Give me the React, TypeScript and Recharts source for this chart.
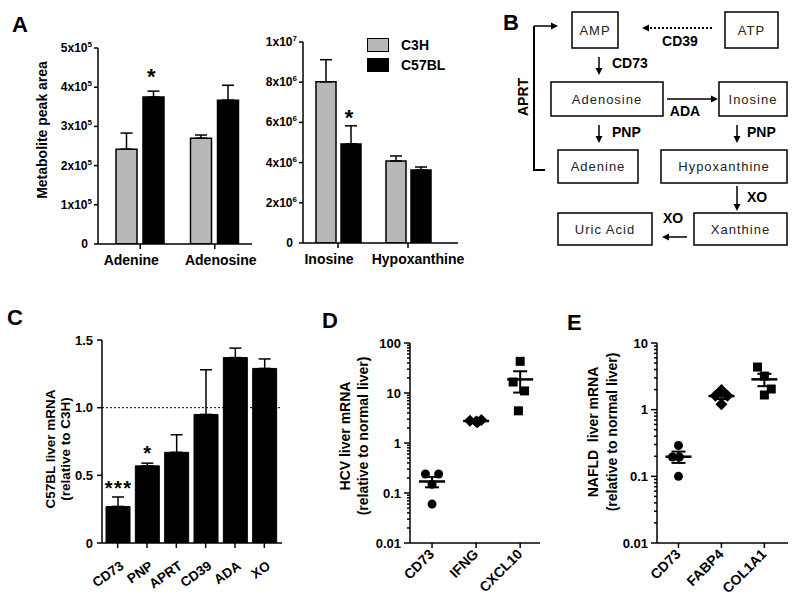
import React from 'react';
import {
  ComposedChart,
  ScatterChart,
  Bar,
  Scatter,
  XAxis,
  YAxis,
  ErrorBar,
  ReferenceLine,
  Legend,
} from 'recharts';

const FONT = '"Liberation Sans", Arial, Helvetica, sans-serif';
const GREY = '#b8b8b8';

// ---- Panel A: metabolite peak areas (C3H vs C57BL) ----
const metabolitesLeft = ['Adenine', 'Adenosine'];
const c3hLeft = [2.42e5, 2.7e5];
const c3hLeftErr = [0.41e5, 0.08e5];
const c57Left = [3.75e5, 3.67e5];
const c57LeftErr = [0.15e5, 0.38e5];
const sigLeft = ['*', ''];
const sigLeftY = [4.4e5, 0];
const ticksLeft = [0, 1e5, 2e5, 3e5, 4e5, 5e5];
const labelShiftLeft = [-9, 6];

const metabolitesRight = ['Inosine', 'Hypoxanthine'];
const c3hRight = [8.02e6, 4.08e6];
const c3hRightErr = [1.1e6, 0.25e6];
const c57Right = [4.93e6, 3.63e6];
const c57RightErr = [0.9e6, 0.15e6];
const sigRight = ['*', ''];
const sigRightY = [6.5e6, 0];
const ticksRight = [0, 2e6, 4e6, 6e6, 8e6, 1e7];
const labelShiftRight = [-9, 10];

// ---- Panel C: C57BL liver mRNA relative to C3H ----
const genesC = ['CD73', 'PNP', 'APRT', 'CD39', 'ADA', 'XO'];
const ratioC = [0.27, 0.57, 0.67, 0.95, 1.37, 1.29];
const ratioCErr = [0.07, 0.02, 0.13, 0.33, 0.07, 0.07];
const sigC = ['***', '*', '', '', '', ''];
const sigCY = [0.44, 0.7, 0, 0, 0, 0];
const ticksC = [0, 0.5, 1.0, 1.5];

// ---- Panel D: HCV liver mRNA ----
const genesD = ['CD73', 'IFNG', 'CXCL10'];
const hcvCD73 = [0.24, 0.24, 0.15, 0.06];
const hcvIFNG = [2.8, 2.7, 2.9, 2.6];
const hcvCXCL10 = [43, 16.6, 11, 4.4];
const hcvMean = [0.17, 2.75, 18.7];
const hcvSem = [0.04, 0.06, 8.5];
// sideways dodge of overlapping symbols, in category units
const hcvCD73Dodge = [-0.15, 0.15, 0, 0];
const hcvIFNGDodge = [-0.14, 0, 0.12, 0.03];
const hcvCXCL10Dodge = [0, -0.16, 0.1, -0.04];

// ---- Panel E: NAFLD liver mRNA ----
const genesE = ['CD73', 'FABP4', 'COL1A1'];
const nafldCD73 = [0.29, 0.195, 0.195, 0.1];
const nafldFABP4 = [1.97, 1.62, 1.62, 1.21];
const nafldCOL1A1 = [4.36, 3.19, 2.04, 1.66];
const nafldMean = [0.197, 1.6, 2.85];
const nafldSem = [0.038, 0.16, 0.6];
const nafldCD73Dodge = [0, -0.14, 0.02, 0];
const nafldFABP4Dodge = [0, -0.14, 0.14, 0];
const nafldCOL1A1Dodge = [-0.16, 0, 0.16, 0];

// ---- Panel B: pathway diagram ----
const pathwayBoxes = [
  { label: 'AMP', x: 82, y: 12, w: 46, h: 36 },
  { label: 'ATP', x: 235, y: 12, w: 53, h: 36 },
  { label: 'Adenosine', x: 61, y: 82, w: 112, h: 34 },
  { label: 'Inosine', x: 229, y: 82, w: 68, h: 34 },
  { label: 'Adenine', x: 68, y: 150, w: 80, h: 33 },
  { label: 'Hypoxanthine', x: 171, y: 150, w: 126, h: 33 },
  { label: 'Uric Acid', x: 68, y: 213, w: 94, h: 32 },
  { label: 'Xanthine', x: 204, y: 213, w: 93, h: 32 },
];
const pathwayArrows = [
  { x1: 222, y1: 28, x2: 152, y2: 28, dashed: true },
  { x1: 109, y1: 57, x2: 109, y2: 75 },
  { x1: 177, y1: 99, x2: 228, y2: 99 },
  { x1: 109, y1: 125, x2: 109, y2: 143 },
  { x1: 247, y1: 125, x2: 247, y2: 143 },
  { x1: 247, y1: 186, x2: 247, y2: 211 },
  { x1: 197, y1: 237, x2: 172, y2: 237 },
  { x1: 44, y1: 26, x2: 68, y2: 26 },
];
const enzymeLabels = [
  { label: 'CD39', x: 190, y: 41, anchor: 'middle' },
  { label: 'CD73', x: 122, y: 63, anchor: 'start' },
  { label: 'ADA', x: 195, y: 111, anchor: 'middle' },
  { label: 'PNP', x: 122, y: 132, anchor: 'start' },
  { label: 'PNP', x: 257, y: 132, anchor: 'start' },
  { label: 'XO', x: 257, y: 197, anchor: 'start' },
  { label: 'XO', x: 173, y: 218, anchor: 'start' },
];

const panelLetters = [
  { label: 'A', x: 12, y: 32 },
  { label: 'B', x: 503, y: 30 },
  { label: 'C', x: 7, y: 325 },
  { label: 'D', x: 322, y: 328 },
  { label: 'E', x: 567, y: 330 },
];

const dataA1 = metabolitesLeft.map((name, i) => ({
  name,
  c3h: c3hLeft[i],
  c3hErr: [0, c3hLeftErr[i]],
  c57: c57Left[i],
  c57Err: [0, c57LeftErr[i]],
  sig: sigLeft[i],
  sigY: sigLeftY[i],
}));
const dataA2 = metabolitesRight.map((name, i) => ({
  name,
  c3h: c3hRight[i],
  c3hErr: [0, c3hRightErr[i]],
  c57: c57Right[i],
  c57Err: [0, c57RightErr[i]],
  sig: sigRight[i],
  sigY: sigRightY[i],
}));
const dataC = genesC.map((name, i) => ({
  name,
  ratio: ratioC[i],
  err: [0, ratioCErr[i]],
  sig: sigC[i],
  sigY: sigCY[i],
}));

const toPoints = (vals: number[], dodge: number[], group: number) =>
  vals.map((y, i) => ({ x: group + dodge[i], y }));
const toMeans = (means: number[], sems: number[]) =>
  means.map((y, i) => ({ x: i, y, sem: sems[i] }));

const decadeTicks = (from: number, to: number) => {
  const out: number[] = [];
  for (let e = from; e < to; e++) {
    for (let k = 1; k < 10; k++) out.push(Number((k * Math.pow(10, e)).toPrecision(2)));
  }
  out.push(Math.pow(10, to));
  return out;
};
const isDecade = (v: number) => Math.abs(Math.log10(v) - Math.round(Math.log10(v))) < 1e-6;

const axisLine = { stroke: '#000', strokeWidth: 1.5 };
const tickLine = { stroke: '#000', strokeWidth: 1.5 };
const boldTick = (size: number) => ({ fill: '#000', fontSize: size, fontWeight: 'bold', fontFamily: FONT });

const SciTick = (props: any) => {
  const { x, y, payload } = props;
  const v = payload.value;
  const style = { fill: '#000', fontWeight: 'bold' as const, fontFamily: FONT };
  if (v === 0) {
    return (
      <text x={x - 4} y={y} dy={4} textAnchor="end" fontSize={12} {...style}>
        0
      </text>
    );
  }
  const exp = Math.floor(Math.log10(v) + 1e-9);
  const mant = Math.round(v / Math.pow(10, exp));
  return (
    <text x={x} y={y} dy={4} textAnchor="end" fontSize={12} {...style}>
      {mant}x10
      <tspan dy={-5} fontSize={8}>
        {exp}
      </tspan>
    </text>
  );
};

const CategoryTick = (props: any) => {
  const { x, y, payload, index, shifts } = props;
  return (
    <text
      x={x + (shifts ? shifts[index] || 0 : 0)}
      y={y}
      dy={11}
      textAnchor="middle"
      fontSize={14}
      fontWeight="bold"
      fontFamily={FONT}
      fill="#000"
    >
      {payload.value}
    </text>
  );
};

const LogTick = (props: any) => {
  const { x, y, payload } = props;
  const v = payload.value;
  const major = isDecade(v);
  return (
    <g>
      <line x1={x} x2={x - (major ? 6 : 3)} y1={y} y2={y} stroke="#000" strokeWidth={1.5} />
      {major && (
        <text x={x - 9} y={y} dy={4.5} textAnchor="end" fontSize={13} fontWeight="bold" fontFamily={FONT} fill="#000">
          {String(v)}
        </text>
      )}
    </g>
  );
};

// slanted category label; its baseline ends at (x + ox, y + oy)
const RotTick = (props: any) => {
  const { x, y, payload, names, angle = 45, ox = 7, oy = 4, fontSz = 14 } = props;
  const label = names ? names[payload.value] : payload.value;
  return (
    <g transform={`translate(${x + ox},${y + oy})`}>
      <text
        x={0}
        y={0}
        textAnchor="end"
        transform={`rotate(${-angle})`}
        fontSize={fontSz}
        fontWeight="bold"
        fontFamily={FONT}
        fill="#000"
      >
        {label}
      </text>
    </g>
  );
};

const axisTitle = (lines: string[], xs: number[], cy: number, size = 14) => () => (
  <g>
    {lines.map((t, i) => (
      <text
        key={i}
        x={xs[i]}
        y={cy}
        transform={`rotate(-90, ${xs[i]}, ${cy})`}
        textAnchor="middle"
        dominantBaseline="central"
        fontSize={size}
        fontWeight="bold"
        fontFamily={FONT}
        fill="#000"
        style={{ whiteSpace: 'pre' }}
      >
        {t}
      </text>
    ))}
  </g>
);

// significance marks; glyph centre sits at the data value
const StarShape = (props: any) => {
  const { cx, cy, payload, shiftX = 0, fontSz = 22, spacing = 0 } = props;
  if (!payload || !payload.sig) return <g />;
  return (
    <text
      x={cx + shiftX}
      y={cy + fontSz * 0.57}
      textAnchor="middle"
      fontSize={fontSz}
      fontWeight="bold"
      fontFamily={FONT}
      fill="#000"
      letterSpacing={spacing}
    >
      {payload.sig}
    </text>
  );
};

const circleShape = (p: any) => <circle cx={p.cx} cy={p.cy} r={4.5} fill="#000" />;
const squareShape = (p: any) => <rect x={p.cx - 4.5} y={p.cy - 4.5} width={9} height={9} fill="#000" />;
const diamondShape = (p: any) => (
  <polygon
    points={`${p.cx},${p.cy - 6} ${p.cx + 6},${p.cy} ${p.cx},${p.cy + 6} ${p.cx - 6},${p.cy}`}
    fill="#000"
  />
);
const meanShape = (p: any) => (
  <line x1={p.cx - 13} x2={p.cx + 13} y1={p.cy} y2={p.cy} stroke="#000" strokeWidth={2.5} />
);

const StrainLegend = (props: any) => {
  const items = (props.payload || []).filter((e: any) => e.type !== 'none');
  return (
    <div style={{ fontFamily: FONT }}>
      {items.map((e: any) => (
        <div key={e.value} style={{ display: 'flex', alignItems: 'center', height: 20 }}>
          <span
            style={{
              display: 'inline-block',
              width: 20,
              height: 12,
              background: (e.payload && e.payload.fill) || e.color,
              border: '1.5px solid #000',
              marginRight: 12,
            }}
          />
          <span style={{ fontSize: 14, fontWeight: 'bold', color: '#000' }}>{e.value}</span>
        </div>
      ))}
    </div>
  );
};

const Arrow = ({ x1, y1, x2, y2, dashed }: any) => {
  const len = Math.hypot(x2 - x1, y2 - y1);
  const ux = (x2 - x1) / len;
  const uy = (y2 - y1) / len;
  const hl = 7;
  const hw = 3.5;
  const bx = x2 - ux * hl;
  const by = y2 - uy * hl;
  return (
    <g>
      <line
        x1={x1}
        y1={y1}
        x2={bx}
        y2={by}
        stroke="#000"
        strokeWidth={dashed ? 2 : 1.5}
        strokeDasharray={dashed ? '2 2' : undefined}
      />
      <polygon points={`${x2},${y2} ${bx - uy * hw},${by + ux * hw} ${bx + uy * hw},${by - ux * hw}`} fill="#000" />
    </g>
  );
};

const PathwayDiagram = () => (
  <g transform="translate(490,0)" fontFamily={FONT}>
    {pathwayBoxes.map((b) => (
      <g key={b.label}>
        <rect x={b.x} y={b.y} width={b.w} height={b.h} fill="#fff" stroke="#000" strokeWidth={1.5} />
        <text
          x={b.x + b.w / 2}
          y={b.y + b.h / 2}
          textAnchor="middle"
          dominantBaseline="central"
          fontSize={13}
          letterSpacing={1}
          fill="#222"
        >
          {b.label}
        </text>
      </g>
    ))}
    <path d="M55 170 H44 V26" fill="none" stroke="#000" strokeWidth={2} />
    {pathwayArrows.map((a, i) => (
      <Arrow key={i} {...a} />
    ))}
    {enzymeLabels.map((l, i) => (
      <text
        key={i}
        x={l.x}
        y={l.y}
        textAnchor={l.anchor as any}
        dominantBaseline="central"
        fontSize={14}
        fontWeight="bold"
        fill="#000"
      >
        {l.label}
      </text>
    ))}
    <text
      x={33}
      y={97}
      transform="rotate(-90, 33, 97)"
      textAnchor="middle"
      dominantBaseline="central"
      fontSize={14}
      fontWeight="bold"
      fill="#000"
    >
      APRT
    </text>
  </g>
);

const MetaboliteChart = ({ data, ticks, domain, margin, width, padding, barSize, barGap, title, legend, shifts }: any) => (
  <ComposedChart width={width} height={300} data={data} margin={margin} barSize={barSize} barGap={barGap}>
    <XAxis
      dataKey="name"
      height={30}
      padding={padding}
      interval={0}
      axisLine={axisLine}
      tickLine={tickLine}
      tickSize={5}
      tickMargin={5}
      tick={<CategoryTick shifts={shifts} />}
    />
    <YAxis
      width={title ? 60 : 50}
      domain={domain}
      ticks={ticks}
      interval={0}
      allowDataOverflow
      axisLine={axisLine}
      tickLine={tickLine}
      tickSize={4}
      tickMargin={2}
      tick={<SciTick />}
      label={title ? { content: title } : undefined}
    />
    <Bar dataKey="c3h" name="C3H" fill={GREY} stroke="#000" strokeWidth={1.5} isAnimationActive={false}>
      <ErrorBar dataKey="c3hErr" direction="y" width={6} stroke="#000" strokeWidth={1.5} />
    </Bar>
    <Bar dataKey="c57" name="C57BL" fill="#000" stroke="#000" strokeWidth={1.5} isAnimationActive={false}>
      <ErrorBar dataKey="c57Err" direction="y" width={6} stroke="#000" strokeWidth={1.5} />
    </Bar>
    <Scatter
      dataKey="sigY"
      legendType="none"
      isAnimationActive={false}
      shape={(p: any) => <StarShape {...p} shiftX={11} fontSz={22} />}
    />
    {legend && (
      <Legend
        layout="vertical"
        align="center"
        verticalAlign="middle"
        wrapperStyle={{ left: 117, top: 34.5, width: 100 }}
        content={<StrainLegend />}
      />
    )}
  </ComposedChart>
);

const LogScatter = ({ width, margin, domain, ticks, names, xDomain, groups, means, title }: any) => (
  <ScatterChart width={width} height={308} margin={margin}>
    <XAxis
      type="number"
      dataKey="x"
      domain={xDomain}
      ticks={[0, 1, 2]}
      interval={0}
      allowDataOverflow
      height={50}
      axisLine={axisLine}
      tickLine={tickLine}
      tickSize={5}
      tickMargin={2}
      tick={<RotTick names={names} angle={45} ox={3} oy={5} fontSz={14} />}
    />
    <YAxis
      type="number"
      dataKey="y"
      scale="log"
      domain={domain}
      ticks={ticks}
      interval={0}
      allowDataOverflow
      width={40}
      axisLine={axisLine}
      tickLine={false}
      tickSize={0}
      tickMargin={0}
      tick={<LogTick />}
      label={{ content: title }}
    />
    {groups.map((g: any, i: number) => (
      <Scatter key={i} data={g.points} shape={g.shape} isAnimationActive={false} />
    ))}
    <Scatter data={means} shape={meanShape} isAnimationActive={false}>
      <ErrorBar dataKey="sem" direction="y" width={7} stroke="#000" strokeWidth={2} />
    </Scatter>
  </ScatterChart>
);

export default function App() {
  const abs = (left: number, top: number) => ({ position: 'absolute' as const, left, top });
  return (
    <div
      style={{
        position: 'absolute',
        left: 0,
        top: 0,
        width: 800,
        height: 608,
        background: '#fff',
        fontFamily: FONT,
      }}
    >
      <div style={abs(0, 0)}>
        <MetaboliteChart
          data={dataA1}
          ticks={ticksLeft}
          domain={[0, 5e5]}
          width={270}
          margin={{ top: 48, right: 18, bottom: 26, left: 38 }}
          padding={{ left: 5, right: 0 }}
          barSize={21}
          barGap={6}
          shifts={labelShiftLeft}
          title={axisTitle(['Metabolite peak area'], [42], 130)}
        />
      </div>
      <div style={abs(250, 0)}>
        <MetaboliteChart
          data={dataA2}
          ticks={ticksRight}
          domain={[0, 1e7]}
          width={230}
          margin={{ top: 42, right: 22, bottom: 27, left: 3 }}
          padding={{ left: 0, right: 15 }}
          barSize={20}
          barGap={5}
          shifts={labelShiftRight}
          legend
        />
      </div>

      <div style={abs(0, 300)}>
        <ComposedChart
          width={300}
          height={308}
          data={dataC}
          margin={{ top: 40, right: 18, bottom: 15, left: 42 }}
          barSize={24}
        >
          <XAxis
            dataKey="name"
            height={50}
            padding={{ left: 1, right: 3 }}
            interval={0}
            axisLine={axisLine}
            tickLine={tickLine}
            tickSize={5}
            tickMargin={2}
            tick={<RotTick angle={35} ox={7} oy={18} fontSz={13.5} />}
          />
          <YAxis
            width={60}
            domain={[0, 1.5]}
            ticks={ticksC}
            interval={0}
            allowDataOverflow
            axisLine={axisLine}
            tickLine={tickLine}
            tickSize={5}
            tickMargin={4}
            tick={boldTick(13)}
            tickFormatter={(v: number) => (v === 0 ? '0' : v.toFixed(1))}
            label={{ content: axisTitle(['C57BL liver mRNA', '(relative to C3H)'], [50, 65], 149, 13.5) }}
          />
          <ReferenceLine y={1} stroke="#000" strokeWidth={1} strokeDasharray="2 2" />
          <Bar dataKey="ratio" fill="#000" stroke="#000" strokeWidth={1} isAnimationActive={false}>
            <ErrorBar dataKey="err" direction="y" width={6} stroke="#000" strokeWidth={1.5} />
          </Bar>
          <Scatter
            dataKey="sigY"
            legendType="none"
            isAnimationActive={false}
            shape={(p: any) => <StarShape {...p} shiftX={1} fontSz={20} spacing={1.5} />}
          />
        </ComposedChart>
      </div>

      <div style={abs(290, 300)}>
        <LogScatter
          width={250}
          margin={{ top: 43, right: 0, bottom: 15, left: 80 }}
          domain={[0.01, 100]}
          ticks={decadeTicks(-2, 2)}
          xDomain={[-0.5, 2.45]}
          names={genesD}
          groups={[
            { points: toPoints(hcvCD73, hcvCD73Dodge, 0), shape: circleShape },
            { points: toPoints(hcvIFNG, hcvIFNGDodge, 1), shape: diamondShape },
            { points: toPoints(hcvCXCL10, hcvCXCL10Dodge, 2), shape: squareShape },
          ]}
          means={toMeans(hcvMean, hcvSem)}
          title={axisTitle(['HCV liver mRNA', '(relative to normal liver)'], [55, 73], 136)}
        />
      </div>

      <div style={abs(540, 300)}>
        <LogScatter
          width={260}
          margin={{ top: 43, right: 12, bottom: 15, left: 77 }}
          domain={[0.01, 10]}
          ticks={decadeTicks(-2, 1)}
          xDomain={[-0.5, 2.55]}
          names={genesE}
          groups={[
            { points: toPoints(nafldCD73, nafldCD73Dodge, 0), shape: circleShape },
            { points: toPoints(nafldFABP4, nafldFABP4Dodge, 1), shape: diamondShape },
            { points: toPoints(nafldCOL1A1, nafldCOL1A1Dodge, 2), shape: squareShape },
          ]}
          means={toMeans(nafldMean, nafldSem)}
          title={axisTitle(['NAFLD  liver mRNA', '(relative to normal liver)'], [53, 72], 132)}
        />
      </div>

      <svg width={800} height={608} style={{ position: 'absolute', left: 0, top: 0, pointerEvents: 'none' }}>
        <PathwayDiagram />
        {panelLetters.map((l) => (
          <text key={l.label} x={l.x} y={l.y} fontSize={22} fontWeight="bold" fontFamily={FONT} fill="#000">
            {l.label}
          </text>
        ))}
      </svg>
    </div>
  );
}
